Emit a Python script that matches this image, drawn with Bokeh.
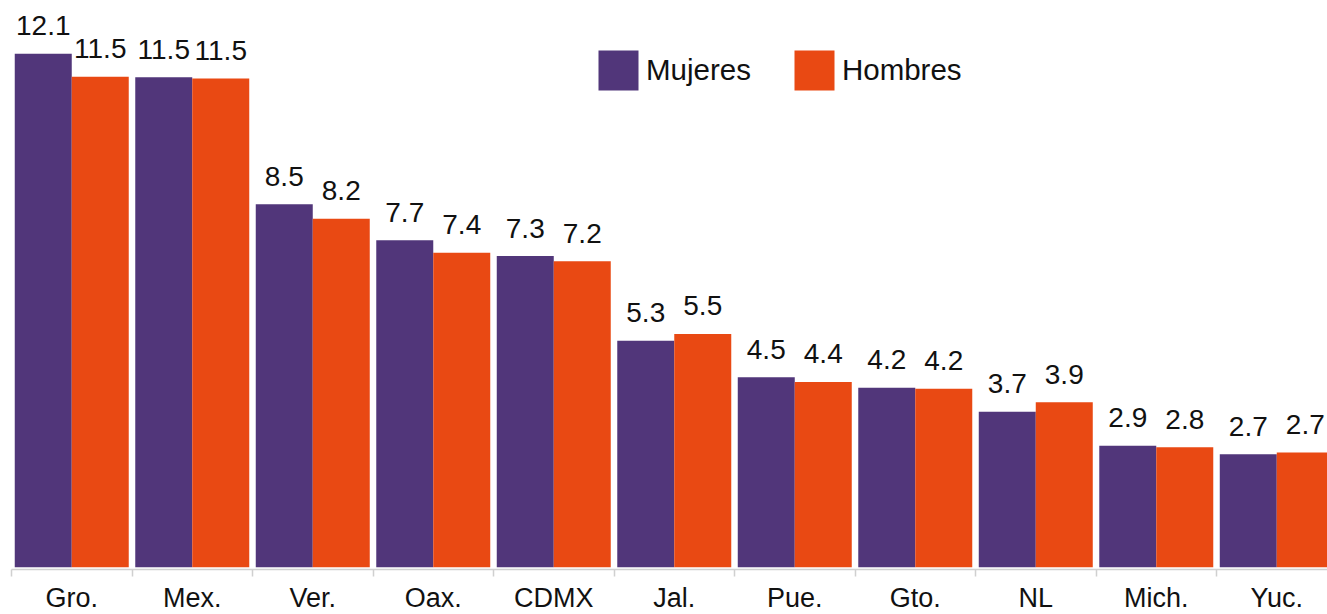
import numpy as np
from bokeh.plotting import figure
from bokeh.models import ColumnDataSource, Range1d, FixedTicker, Legend, LegendItem
from bokeh.transform import dodge
from bokeh.core.properties import value
from bokeh.embed import file_html
from bokeh.resources import INLINE

# ---- data ----
estados = ["Gro.", "Mex.", "Ver.", "Oax.", "CDMX", "Jal.", "Pue.", "Gto.", "NL", "Mich.", "Yuc."]
mujeres = [12.08, 11.53, 8.54, 7.69, 7.32, 5.33, 4.47, 4.22, 3.66, 2.86, 2.66]
hombres = [11.54, 11.50, 8.20, 7.40, 7.20, 5.49, 4.36, 4.20, 3.88, 2.82, 2.70]
series = ["Mujeres", "Hombres"]
colores = ["#51367A", "#E94913"]

FONT = "Liberation Sans"
idx = np.arange(len(estados))
src = ColumnDataSource(dict(
    x=idx + 0.5,
    estado=estados,
    mujeres=mujeres,
    hombres=hombres,
    lab_m=[f"{v:.1f}" for v in mujeres],
    lab_h=[f"{v:.1f}" for v in hombres],
))

W, H = 1327, 617
p = figure(width=W, height=H, output_backend="svg", toolbar_location=None,
           x_range=Range1d(0, 10.921), y_range=Range1d(-0.054, 13.334),
           y_axis_location=None,
           min_border_left=11, min_border_right=0, min_border_top=0, min_border_bottom=48)
p.outline_line_color = None
p.xgrid.grid_line_color = None
p.ygrid.grid_line_color = None

off, bw = 0.2365, 0.473
renderers = []
for col, lab, d, c in [("mujeres", "lab_m", -off, colores[0]), ("hombres", "lab_h", off, colores[1])]:
    r = p.vbar(x=dodge("x", d), top=col, bottom=0, width=bw, source=src,
               fill_color=c, line_color=None)
    renderers.append(r)
    p.text(x=dodge("x", d), y=col, text=lab, source=src,
           text_font=value(FONT), text_font_size="28px", text_color="#111111",
           text_align="center", text_baseline="alphabetic", y_offset=-28)

legend = Legend(items=[LegendItem(label=s, renderers=[r]) for s, r in zip(series, renderers)],
                orientation="horizontal", location=(582, 474),
                glyph_width=50, glyph_height=50, label_height=50, label_standoff=3,
                spacing=38, padding=0, margin=0, border_line_color=None,
                background_fill_alpha=0, label_text_font=FONT,
                label_text_font_size="29.5px", label_text_color="#111111")
p.add_layout(legend)

ax = p.xaxis[0]
ax.ticker = FixedTicker(ticks=list(idx + 0.5), minor_ticks=list(range(len(estados) + 1)))
ax.major_label_overrides = {float(i + 0.5): s for i, s in enumerate(estados)}
ax.major_tick_out = 0
ax.major_tick_in = 0
ax.minor_tick_out = 7
ax.minor_tick_in = 0
ax.axis_line_color = "#d0d0d0"
ax.axis_line_width = 1.5
ax.minor_tick_line_color = "#d0d0d0"
ax.minor_tick_line_width = 1.5
ax.major_label_text_font = FONT
ax.major_label_text_font_size = "27px"
ax.major_label_text_color = "#111111"
ax.major_label_standoff = 6

open("out.html", "w").write(file_html(p, INLINE))
